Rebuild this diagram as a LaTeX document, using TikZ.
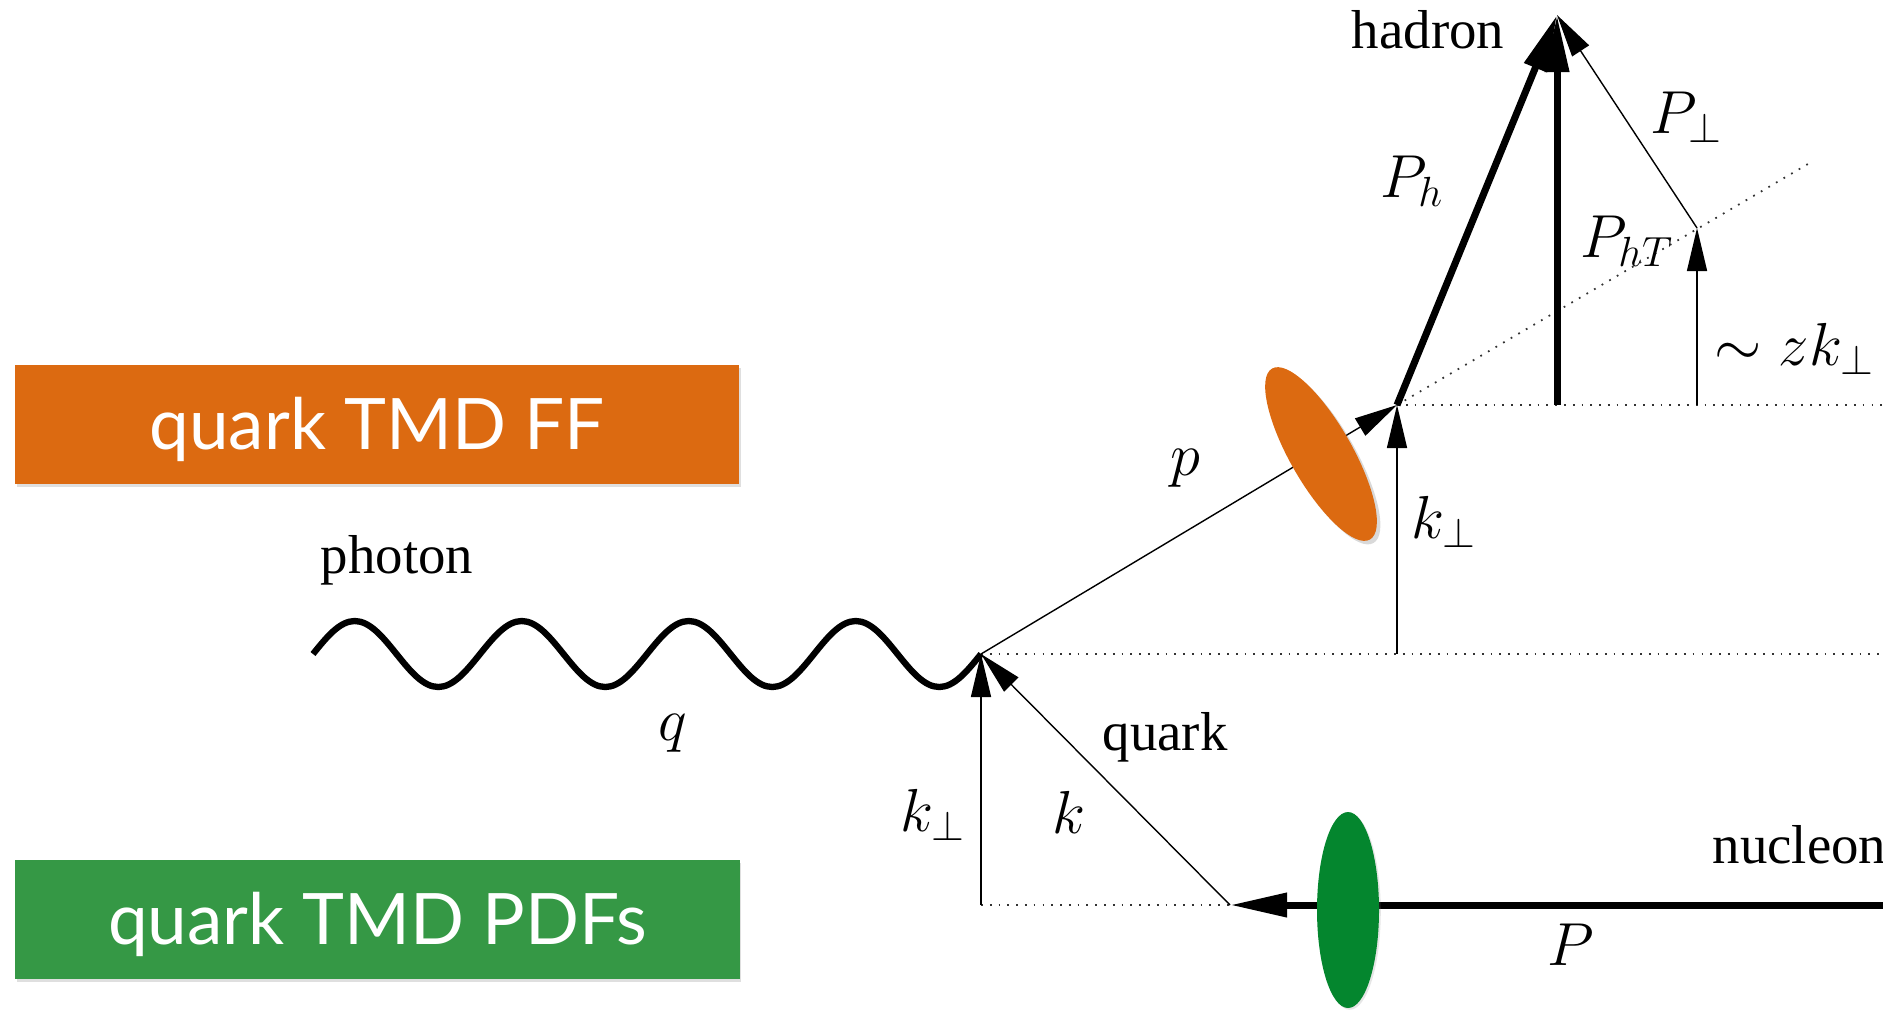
\documentclass[tikz,border=0pt]{standalone}
\usepackage{fontspec}
\setmainfont{Liberation Serif}
\newfontfamily\boxfont{Lato}
\usetikzlibrary{arrows.meta,shapes.geometric,shadows}
\definecolor{ffor}{RGB}{220,106,17}
\definecolor{pdfgr}{RGB}{53,152,69}
\definecolor{nucgr}{RGB}{4,134,46}

\begin{document}
\begin{tikzpicture}[
  word/.style={font=\fontsize{15.6}{18}\selectfont, inner sep=0pt},
  lbl/.style={font=\fontsize{18.8}{22}\selectfont, inner sep=0pt},
  tmd/.style={minimum width=7.24cm, minimum height=1.19cm, inner sep=0pt,
              text=white, font=\boxfont\fontsize{20.2}{24}\selectfont,
              text height=0.5cm, text depth=0pt,
              drop shadow={opacity=0.25, shadow xshift=0.5pt, shadow yshift=-1pt}},
  vec/.style={line width=0.4pt, -{Triangle[length=4.3mm, width=2mm]}},
  heavy/.style={line width=2pt, -{Triangle[length=5.7mm, width=2.3mm]}},
  aux/.style={dotted, line width=0.5pt, black!80},
  blob/.style={ellipse, inner sep=0pt, draw=none},
  wave/.style={line width=1.8pt, line join=round}
]
\useasboundingbox (0,0) rectangle (18.83,10.09);

\coordinate (gam) at (3.13,3.55);
\coordinate (vq) at (9.81,3.55);
\coordinate (vh) at (13.97,6.04);
\coordinate (kb) at (13.97,3.55);
\coordinate (top) at (15.57,9.94);
\coordinate (hbase) at (15.57,6.04);
\coordinate (pt) at (16.97,7.81);
\coordinate (ptb) at (16.97,6.04);
\coordinate (dend) at (18.13,8.48);
\coordinate (qn) at (12.30,1.04);
\coordinate (kl) at (9.81,1.04);
\coordinate (nuc) at (18.83,1.04);
\coordinate (edgeq) at (18.83,3.55);
\coordinate (edgeh) at (18.83,6.04);

\node[tmd, fill=ffor] (ff) at (3.77,5.85) {quark TMD FF};
\node[tmd, fill=pdfgr] (pdf) at (3.775,0.90) {quark TMD PDFs};

\draw[aux] (vq) -- (edgeq);
\draw[aux] (vh) -- (edgeh);
\draw[aux] (vh) -- (dend);
\draw[aux] (kl) -- (qn);

% photon: four periods from (gam) to (vq)
\draw[wave] (gam) \foreach \i in {1,...,4}
  { sin ++(0.4175,0.33) cos ++(0.4175,-0.33) sin ++(0.4175,-0.33) cos ++(0.4175,0.33) };
\draw[vec] (vq) -- (vh);
\draw[vec] (kb) -- (vh);
\draw[vec] (kl) -- (vq);
\draw[vec] (qn) -- (vq);
\draw[heavy] (nuc) -- (qn);
\draw[heavy] (vh) -- (top);
\draw[heavy] (hbase) -- (top);
\draw[vec] (pt) -- (top);
\draw[vec] (ptb) -- (pt);

\node[blob, fill=ffor, minimum width=1.97cm, minimum height=0.62cm, rotate=-60.2,
      drop shadow={opacity=0.3, shadow xshift=1pt, shadow yshift=-1pt}] (ffblob) at (13.21,5.55) {};
\node[blob, fill=nucgr, minimum width=0.62cm, minimum height=1.96cm,
      drop shadow={opacity=0.2, shadow xshift=0.5pt, shadow yshift=-0.5pt}] (pdfblob) at (13.48,0.99) {};

\node[word, anchor=base] (lhad) at (14.28,9.61) {hadron};
\node[word, anchor=base] (lpho) at (3.97,4.36) {photon};
\node[word, anchor=base] (lqk) at (11.65,2.59) {quark};
\node[word, anchor=base west] (lnuc) at (17.12,1.46) {nucleon};

\node[lbl] (lph) at (14.12,8.28) {$P_h$};
\node[lbl] (lpht) at (16.27,7.68) {$P_{hT}$};
\node[lbl] (lpperp) at (16.87,8.92) {$P_\perp$};
\node[lbl, anchor=base west] (lzk) at (17.14,6.44) {$\sim zk_\perp$};
\node[lbl] (lp) at (11.85,5.41) {$p$};
\node[lbl] (lkup) at (14.44,4.87) {$k_\perp$};
\node[lbl] (lq) at (6.73,2.76) {$q$};
\node[lbl] (lk) at (10.69,1.97) {$k$};
\node[lbl] (lklow) at (9.33,1.94) {$k_\perp$};
\node[lbl] (lP) at (15.71,0.64) {$P$};
\end{tikzpicture}
\end{document}
